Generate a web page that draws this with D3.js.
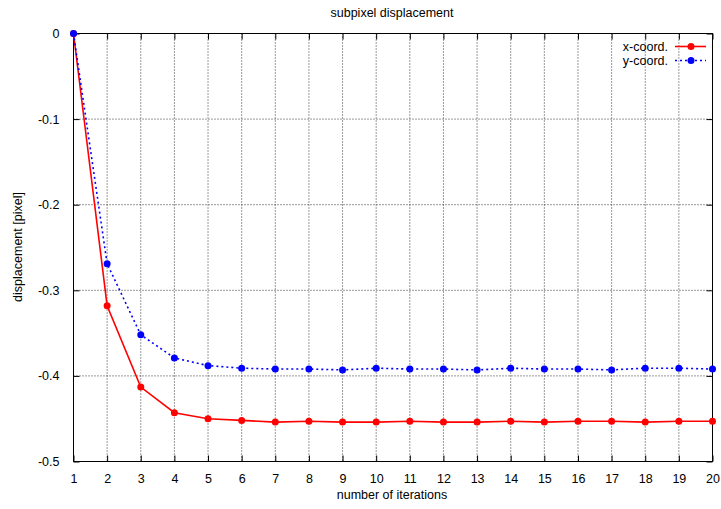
<!DOCTYPE html>
<html>
<head>
<meta charset="utf-8">
<script src="https://cdn.jsdelivr.net/npm/d3@7"></script>
<style>
  body { margin: 0; background: #fff; }
  text { font-family: "Liberation Sans", Arial, sans-serif; }
</style>
</head>
<body>
<svg id="chart" width="721" height="509"></svg>
<script>
// Iteration counts and subpixel displacement per coordinate
const iterations = [1, 2, 3, 4, 5, 6, 7, 8, 9, 10, 11, 12, 13, 14, 15, 16, 17, 18, 19, 20];
const xCoord = [0, -0.318, -0.413, -0.443, -0.450, -0.452, -0.454, -0.453, -0.454, -0.454,
                -0.453, -0.454, -0.454, -0.453, -0.454, -0.453, -0.453, -0.454, -0.453, -0.453];
const yCoord = [0, -0.269, -0.352, -0.379, -0.388, -0.391, -0.392, -0.392, -0.393, -0.391,
                -0.392, -0.392, -0.393, -0.391, -0.392, -0.392, -0.393, -0.391, -0.391, -0.392];
const yTicks = [0, -0.1, -0.2, -0.3, -0.4, -0.5];
const seriesNames = ["x-coord.", "y-coord."];

const svg = d3.select("#chart");
const m = { left: 73.5, right: 712.5, top: 33.5, bottom: 461.5 };

const x = d3.scaleLinear().domain([1, 20]).range([m.left, m.right]);
const y = d3.scaleLinear().domain([-0.5, 0]).range([m.bottom, m.top]);

// dotted grid
const grid = svg.append("g").attr("stroke", "#333").attr("stroke-width", 1)
  .attr("stroke-dasharray", "1,2").attr("fill", "none");
iterations.slice(1, -1).forEach(v => {
  grid.append("line").attr("x1", x(v)).attr("x2", x(v)).attr("y1", m.top).attr("y2", m.bottom);
});
yTicks.slice(1, -1).forEach(v => {
  grid.append("line").attr("x1", m.left).attr("x2", m.right).attr("y1", y(v)).attr("y2", y(v));
});

// axes with inward ticks on all four sides
const tl = 6;
const yFmt = d => d === 0 ? "0" : d.toFixed(1);
svg.append("g").attr("transform", `translate(0,${m.bottom})`)
  .call(d3.axisBottom(x).tickValues(iterations).tickSize(-tl).tickPadding(13).tickFormat(d => String(d)));
svg.append("g").attr("transform", `translate(0,${m.top})`)
  .call(d3.axisTop(x).tickValues(iterations).tickSize(-tl).tickFormat(""));
svg.append("g").attr("transform", `translate(${m.left},0)`)
  .call(d3.axisLeft(y).tickValues(yTicks).tickSize(-tl).tickPadding(14).tickFormat(yFmt));
svg.append("g").attr("transform", `translate(${m.right},0)`)
  .call(d3.axisRight(y).tickValues(yTicks).tickSize(-tl).tickFormat(""));
svg.selectAll(".domain").remove();
svg.selectAll(".tick line").attr("stroke", "#000");
svg.selectAll(".tick text").attr("font-size", 12.5).attr("fill", "#000")
  .attr("font-family", "'Liberation Sans', Arial, sans-serif");

// frame
svg.append("rect").attr("x", m.left).attr("y", m.top)
  .attr("width", m.right - m.left).attr("height", m.bottom - m.top)
  .attr("fill", "none").attr("stroke", "#000").attr("stroke-width", 1);

// series
const series = [
  { name: seriesNames[0], values: xCoord, color: "#ff0000", dash: null },
  { name: seriesNames[1], values: yCoord, color: "#0000ff", dash: "2,3" }
];
const line = d3.line().x((d, i) => x(iterations[i])).y(d => y(d));
series.forEach(s => {
  svg.append("path").datum(s.values).attr("d", line)
    .attr("fill", "none").attr("stroke", s.color).attr("stroke-width", 1.6)
    .attr("stroke-dasharray", s.dash);
  svg.append("g").selectAll("circle").data(s.values).join("circle")
    .attr("cx", (d, i) => x(iterations[i])).attr("cy", d => y(d))
    .attr("r", 3.5).attr("fill", s.color);
});

// legend
series.forEach((s, i) => {
  const ly = 46.5 + i * 14;
  svg.append("text").attr("x", 668).attr("y", ly + 4.5).attr("text-anchor", "end")
    .attr("font-size", 12.5).text(s.name);
  svg.append("line").attr("x1", 675).attr("x2", 706).attr("y1", ly).attr("y2", ly)
    .attr("stroke", s.color).attr("stroke-width", 1.6).attr("stroke-dasharray", s.dash);
  svg.append("circle").attr("cx", 691).attr("cy", ly).attr("r", 3.5).attr("fill", s.color);
});

// titles
svg.append("text").attr("x", 392).attr("y", 17).attr("text-anchor", "middle")
  .attr("font-size", 12.5).text("subpixel displacement");
svg.append("text").attr("x", 392).attr("y", 499).attr("text-anchor", "middle")
  .attr("font-size", 12.5).text("number of iterations");
svg.append("text").attr("transform", "translate(22,247) rotate(-90)").attr("text-anchor", "middle")
  .attr("font-size", 12.5).text("displacement [pixel]");
</script>
</body>
</html>
